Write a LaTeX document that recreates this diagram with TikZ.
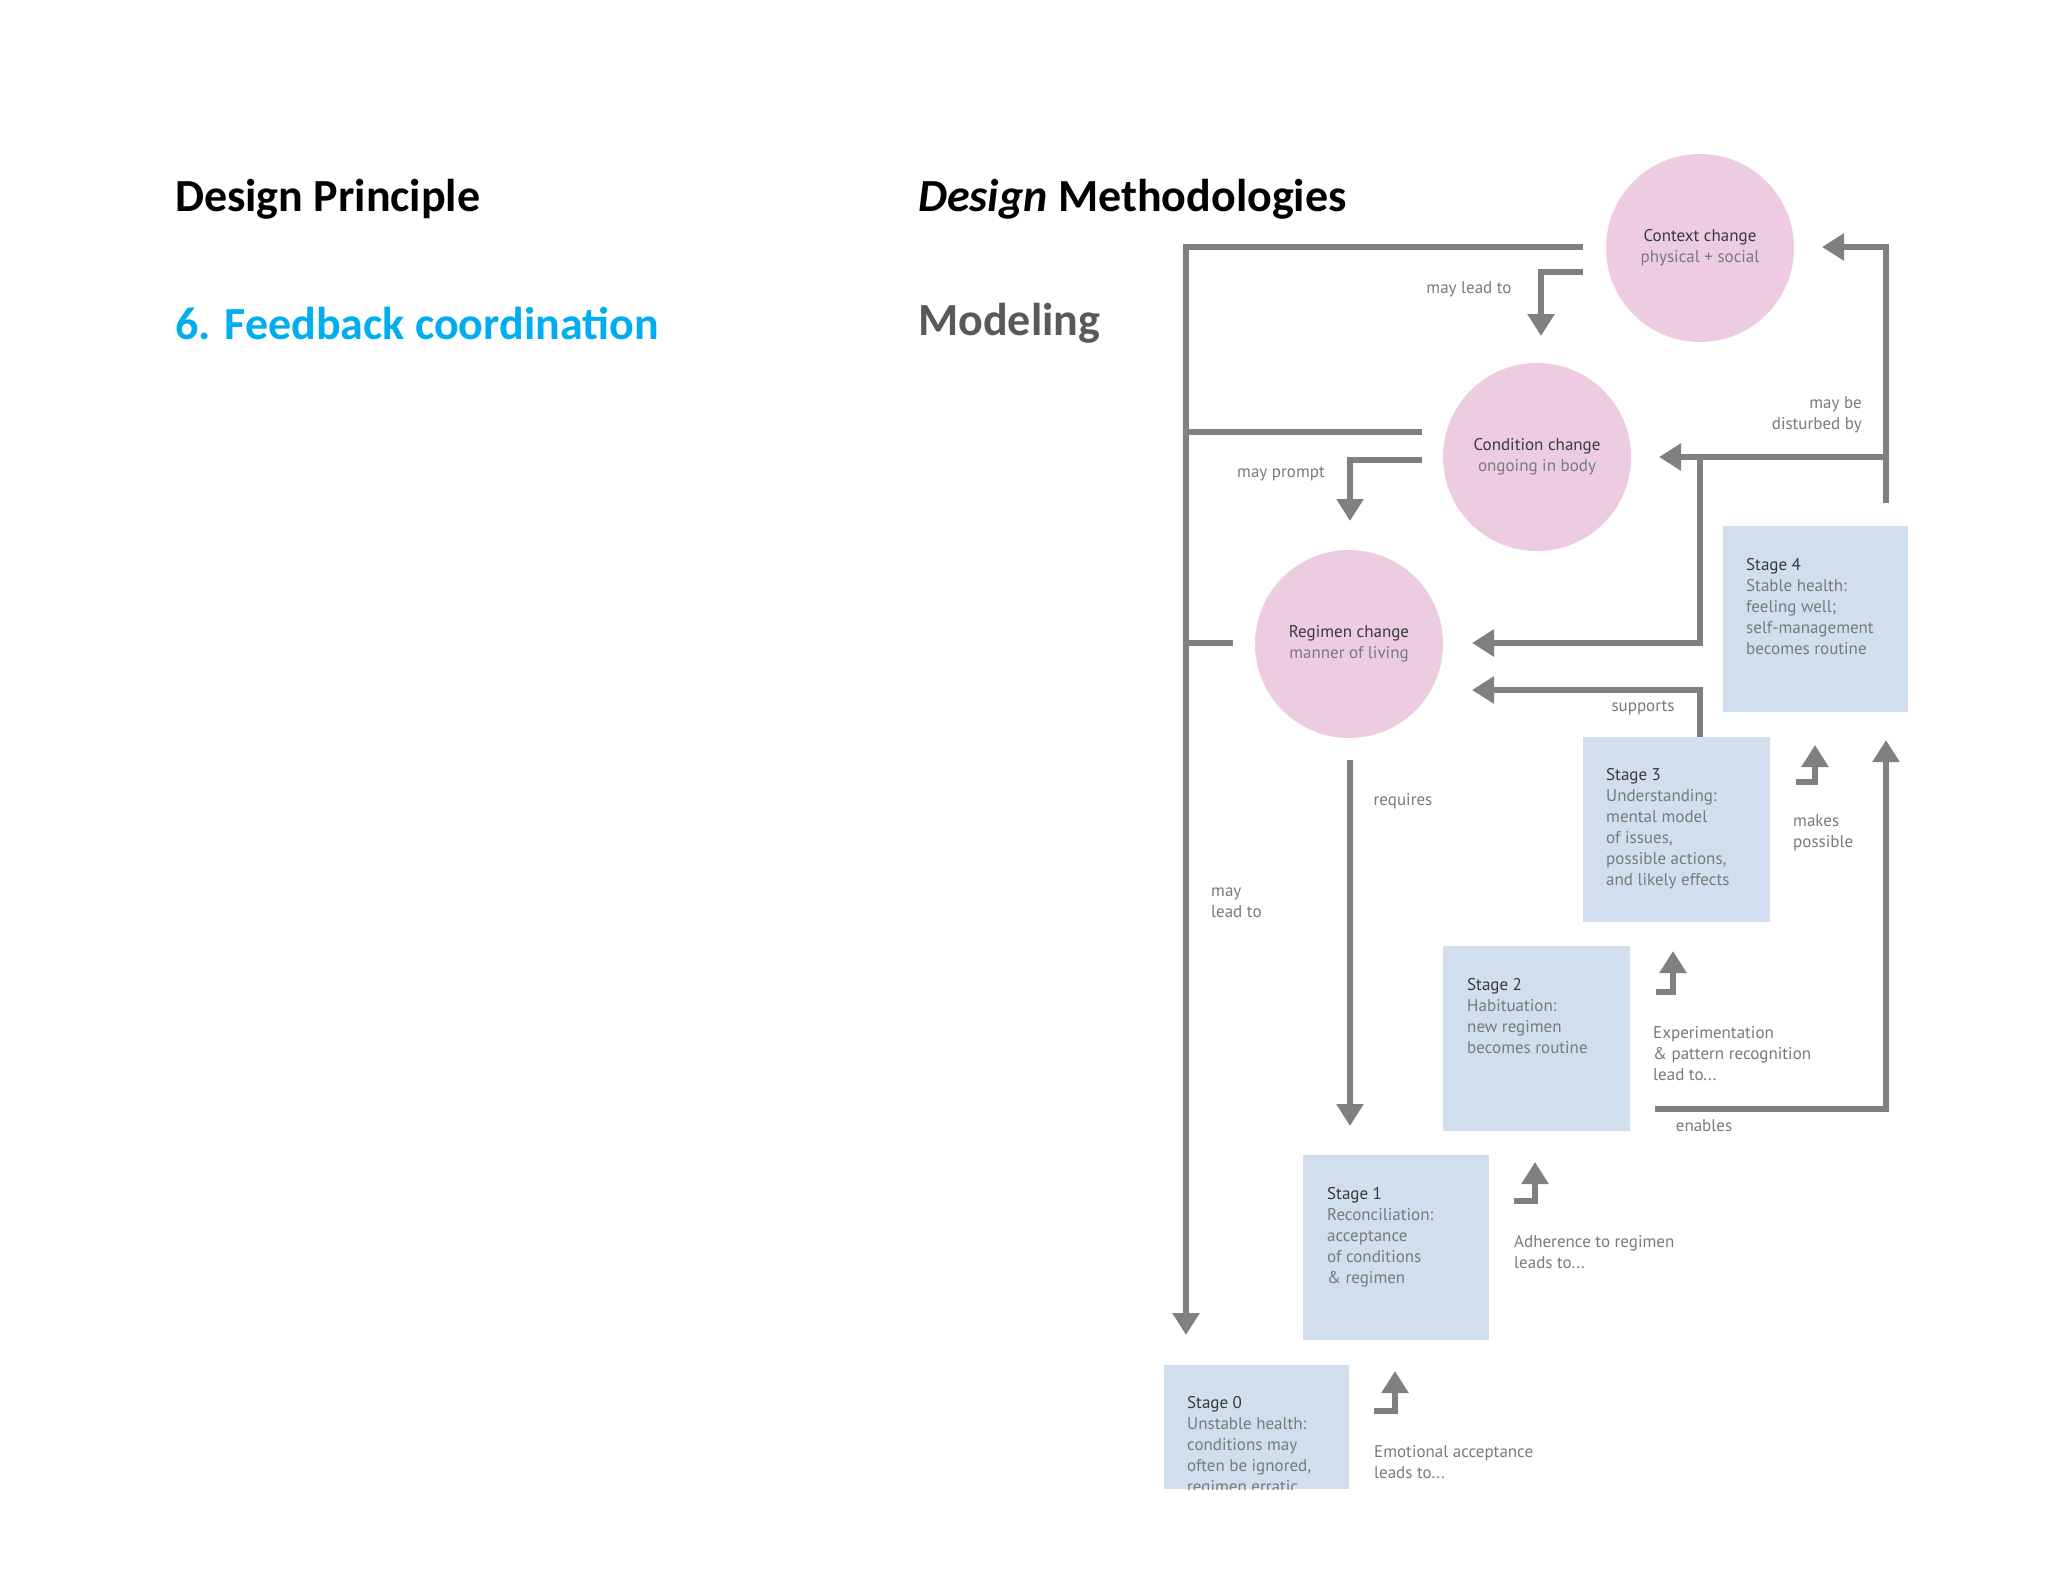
\documentclass[tikz,border=0pt]{standalone}
\usepackage{fontspec}
\setmainfont{Carlito}
\newfontfamily\diag{PT Sans}
\usetikzlibrary{arrows.meta}
\definecolor{pinkc}{HTML}{EDCCE1}
\definecolor{bluec}{HTML}{D0DEED}
\definecolor{linec}{HTML}{808080}
\definecolor{txtg}{HTML}{7A7A7A}
\definecolor{txtd}{HTML}{3A3A3A}
\definecolor{titleblue}{HTML}{00AEEF}
\tikzset{
 circ/.style={circle,fill=pinkc,minimum size=188pt,inner sep=0,align=center,font=\diag\fontsize{17}{21}\selectfont,text=txtg},
 stagebox/.style={fill=bluec,anchor=north west,inner sep=0},
 stagetxt/.style={anchor=north west,inner sep=0,align=left,font=\diag\fontsize{17}{21}\selectfont,text=txtg},
 lbl/.style={inner sep=0,align=left,font=\diag\fontsize{17}{21}\selectfont,text=txtg},
 conn/.style={draw=linec,line width=6.5pt},
 arr/.style={conn,-{Triangle[width=26pt,length=22pt]}},
 title/.style={anchor=west,inner sep=0,font=\fontsize{46}{50}\selectfont\bfseries}
}
\begin{document}
\begin{tikzpicture}[x=1pt,y=-1pt]
\useasboundingbox[fill=white] (0,0) rectangle (2048,1582);
\node[title] (t1) at (175,199) {Design Principle};
\node[title,text=titleblue] (t2) at (175,323) {6. Feedback coordination};
\node[title] (t3) at (918,199) {\textit{Design} Methodologies};
\node[title,text=black!65] (t4) at (918,323) {Modeling};

\node[circ] (ctx) at (1700,248) {\textcolor{txtd}{Context change}\\physical + social};
\node[circ] (cond) at (1537,457) {\textcolor{txtd}{Condition change}\\ongoing in body};
\node[circ] (reg) at (1349,644) {\textcolor{txtd}{Regimen change}\\manner of living};

\fill[bluec] (1723,526) rectangle (1908,712);
\fill[bluec] (1583,737) rectangle (1770,922);
\fill[bluec] (1443,946) rectangle (1630,1131);
\fill[bluec] (1303,1155) rectangle (1489,1340);
\fill[bluec] (1164,1365) rectangle (1349,1489);
\node[stagetxt] (s4) at (1746,558) {\textcolor{txtd}{Stage 4}\\Stable health:\\feeling well;\\self-management\\becomes routine};
\node[stagetxt] (s3) at (1606,768) {\textcolor{txtd}{Stage 3}\\Understanding:\\mental model\\of issues,\\possible actions,\\and likely effects};
\node[stagetxt] (s2) at (1467,978) {\textcolor{txtd}{Stage 2}\\Habituation:\\new regimen\\becomes routine};
\node[stagetxt] (s1) at (1327,1187) {\textcolor{txtd}{Stage 1}\\Reconciliation:\\acceptance\\of conditions\\\& regimen};
\begin{scope}
\clip (1164,1365) rectangle (1349,1489);
\node[stagetxt] (s0) at (1187,1396) {\textcolor{txtd}{Stage 0}\\Unstable health:\\conditions may\\often be ignored,\\regimen erratic};
\end{scope}

% left feedback lines
\draw[arr] (1583,247) -- (1186,247) -- (1186,1335);
\draw[conn] (1422,432) -- (1186,432);
\draw[conn] (1233,643) -- (1186,643);
\draw[arr] (1583,272) -- (1541,272) -- (1541,336);
\draw[arr] (1422,460) -- (1350,460) -- (1350,521);
\draw[arr] (1350,760) -- (1350,1126);
% right lines
\draw[arr] (1886,503) -- (1886,247) -- (1822,247);
\draw[arr] (1886,457) -- (1659,457);
\draw[arr] (1700,457) -- (1700,643) -- (1472,643);
\draw[arr] (1700,737) -- (1700,690) -- (1472,690);
\draw[arr] (1655,1109) -- (1886,1109) -- (1886,740);
% step arrows
\draw[arr] (1796,782) -- (1815,782) -- (1815,745);
\draw[arr] (1656,992) -- (1673,992) -- (1673,951);
\draw[arr] (1514,1201) -- (1535,1201) -- (1535,1162);
\draw[arr] (1374,1411) -- (1395,1411) -- (1395,1371);

% labels
\node[lbl] (l1) at (1469,289) {may lead to};
\node[lbl,align=right,anchor=east] (l2) at (1862,415) {may be\\disturbed by};
\node[lbl] (l3) at (1281,474) {may prompt};
\node[lbl] (l4) at (1643,708) {supports};
\node[lbl] (l5) at (1403,801) {requires};
\node[lbl,anchor=west] (l6) at (1793,833) {makes\\possible};
\node[lbl,anchor=west] (l7) at (1211,903) {may\\lead to};
\node[lbl,anchor=west] (l8) at (1653,1054) {Experimentation\\\& pattern recognition\\lead to...};
\node[lbl] (l9) at (1704,1126) {enables};
\node[lbl,anchor=west] (l10) at (1514,1252) {Adherence to regimen\\leads to...};
\node[lbl,anchor=west] (l11) at (1374,1462) {Emotional acceptance\\leads to...};
\end{tikzpicture}
\end{document}
